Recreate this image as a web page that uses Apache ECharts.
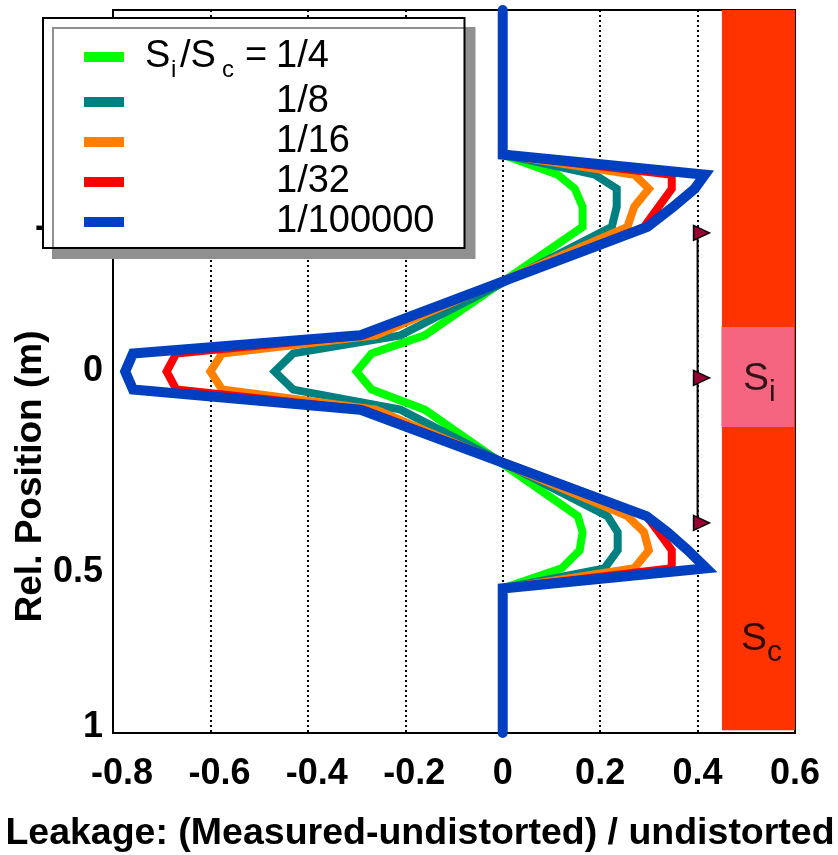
<!DOCTYPE html>
<html><head><meta charset="utf-8">
<script src="https://cdn.jsdelivr.net/npm/echarts@6/dist/echarts.min.js"></script>
<style>html,body{margin:0;padding:0;background:#fff}#c{width:838px;height:855px}</style>
</head><body><div id="c"></div>
<script>
// ---- data ----
const positions = [-0.9, -0.54, -0.49, -0.455, -0.41, -0.36, -0.09, -0.045, 0, 0.045, 0.095, 0.36, 0.40, 0.445, 0.49, 0.54, 0.9];
const ratioNames = ['1/4', '1/8', '1/16', '1/32', '1/100000'];
const leak_1_4 = [0, 0, 0.113, 0.148, 0.164, 0.164, -0.16, -0.269, -0.30, -0.269, -0.16, 0.154, 0.164, 0.158, 0.121, 0, 0];
const leak_1_8 = [0, 0, 0.189, 0.234, 0.234, 0.224, -0.21, -0.43, -0.468, -0.43, -0.21, 0.215, 0.236, 0.236, 0.209, 0, 0];
const leak_1_16 = [0, 0, 0.27, 0.30, 0.27, 0.256, -0.26, -0.576, -0.60, -0.576, -0.26, 0.256, 0.29, 0.30, 0.27, 0, 0];
const leak_1_32 = [0, 0, 0.347, 0.347, 0.32, 0.29, -0.285, -0.67, -0.69, -0.67, -0.285, 0.295, 0.32, 0.347, 0.347, 0, 0];
const leak_1_100000 = [0, 0, 0.415, 0.394, 0.35, 0.297, -0.293, -0.759, -0.775, -0.759, -0.293, 0.295, 0.338, 0.38, 0.418, 0, 0];
const xTicks = [-0.8, -0.6, -0.4, -0.2, 0, 0.2, 0.4, 0.6];
const yTickValues = [-0.36, 0, 0.5, 0.885];
const yTickLabels = ['-0.5', '0', '0.5', '1'];
const arrowX = 0.4;
const arrowY = [-0.345, 0.016, 0.377];
const sourceBar = [0.45, 0.6, -0.9, 0.893];     // x0, x1, y0, y1  (S_c)
const innerBox = [0.449, 0.598, -0.111, 0.138]; // x0, x1, y0, y1  (S_i)
const regionLabels = [{ sub: 'i', x: 0.527, y: 0.019 }, { sub: 'c', x: 0.531, y: 0.666 }];

const leaks = [leak_1_4, leak_1_8, leak_1_16, leak_1_32, leak_1_100000];
const colors = ['#00FF00', '#008080', '#FF8000', '#FF0000', '#0040C0'];
const FONT = '"Liberation Sans", Arial, Helvetica, sans-serif';

const chart = echarts.init(document.getElementById('c'), null, { renderer: 'canvas' });

const lineSeries = ratioNames.map((n, i) => ({
  name: n,
  type: 'line',
  data: positions.map((y, j) => [leaks[i][j], y]),
  symbol: 'none',
  clip: false,
  z: 3 + i,
  lineStyle: { color: colors[i], width: i === 4 ? 10 : 8, cap: 'round', join: 'miter' },
  itemStyle: { color: colors[i] },
  animation: false
}));

const LF = 38;
const option = {
  animation: false,
  backgroundColor: '#fff',
  grid: { left: 113, top: 10, right: 43, bottom: 122, containLabel: false, outerBoundsMode: 'none',
    show: true, borderColor: '#000', borderWidth: 2, backgroundColor: 'transparent', z: 1 },
  legend: {
    data: ratioNames,
    orient: 'vertical',
    left: 43, top: 18,
    padding: [19, 30, 6, 41],
    itemGap: 0,
    itemWidth: 40, itemHeight: 10,
    icon: 'rect',
    selectedMode: false,
    backgroundColor: '#fff',
    borderColor: '#000', borderWidth: 2,
    shadowColor: '#909090', shadowBlur: 0, shadowOffsetX: 10, shadowOffsetY: 10,
    formatter: (name) => name === '1/4'
      ? '{g|}{t1|S}{sub1|i}{t2|/S}{sub2|c}{t3|=}{t|1/4}'
      : '{g|}{pad|}{t|' + name + '}',
    textStyle: {
      fontFamily: FONT, fontSize: LF, color: '#000', lineHeight: 40,
      rich: {
        g: { width: 16, lineHeight: 40 },
        t: { fontFamily: FONT, fontSize: LF, lineHeight: 40 },
        t1: { fontFamily: FONT, fontSize: LF, lineHeight: 40, width: 26 },
        sub1: { fontFamily: FONT, fontSize: 24, lineHeight: 40, height: 14, verticalAlign: 'bottom', width: 9 },
        t2: { fontFamily: FONT, fontSize: LF, lineHeight: 40, width: 42 },
        sub2: { fontFamily: FONT, fontSize: 24, lineHeight: 40, height: 14, verticalAlign: 'bottom', width: 14 },
        t3: { fontFamily: FONT, fontSize: LF, lineHeight: 40, width: 40, align: 'center' },
        pad: { width: 131, lineHeight: 40 }
      }
    }
  },
  xAxis: {
    type: 'value', min: -0.8, max: 0.6, interval: 0.2,
    name: 'Leakage: (Measured-undistorted) / undistorted',
    nameLocation: 'middle', nameGap: 82,
    nameTextStyle: { fontFamily: FONT, fontSize: 37.5, fontWeight: 'bold', color: '#000', padding: [0, 68, 0, 0] },
    axisLine: { show: false }, axisTick: { show: false },
    axisLabel: { fontFamily: FONT, fontSize: 36, fontWeight: 'bold', color: '#000', margin: 23,
      formatter: (v) => {
        const k = xTicks.findIndex(t => Math.abs(t - v) < 1e-6);
        if (k < 0) return '';
        return xTicks[k] < 0 ? '{n|' + xTicks[k] + '}' : String(xTicks[k]);
      },
      rich: { n: { fontFamily: FONT, fontSize: 36, fontWeight: 'bold', color: '#000', padding: [0, 0, 0, 18] } }
    },
    splitLine: { show: true, lineStyle: { color: '#000', width: 2, type: [2, 3] } }
  },
  yAxis: {
    type: 'value', inverse: true, min: -0.9, max: 0.9,
    name: 'Rel. Position (m)',
    nameLocation: 'middle', nameGap: 64, nameMoveOverlap: false,
    nameTextStyle: { fontFamily: FONT, fontSize: 37, fontWeight: 'bold', color: '#000', padding: [0, 210, 0, 0] },
    axisLine: { show: false }, axisTick: { show: false },
    splitLine: { show: false },
    axisLabel: {
      customValues: yTickValues,
      fontFamily: FONT, fontSize: 36, fontWeight: 'bold', color: '#000', margin: 10,
      formatter: (v) => {
        const k = yTickValues.findIndex(t => Math.abs(t - v) < 1e-6);
        if (k < 0) return '';
        return yTickLabels[k].charAt(0) === '-' ? '{m|' + yTickLabels[k] + '}' : yTickLabels[k];
      },
      rich: { m: { fontFamily: FONT, fontSize: 36, fontWeight: 'bold', color: '#000', padding: [0, 6, 0, 0] } }
    }
  },
  series: [
    {
      name: 'regions', type: 'scatter', z: 2,
      data: regionLabels.map(r => [r.x, r.y]),
      symbolSize: 1, itemStyle: { color: 'rgba(0,0,0,0)' },
      label: {
        show: true, position: 'inside',
        formatter: (p) => '{S|S}{s|' + regionLabels[p.dataIndex].sub + '}',
        rich: {
          S: { fontFamily: FONT, fontSize: 39, color: '#000', lineHeight: 44 },
          s: { fontFamily: FONT, fontSize: 30, color: '#000', lineHeight: 44, height: 16, verticalAlign: 'bottom' }
        }
      },
      markArea: {
        silent: true,
        data: [
          [{ xAxis: sourceBar[0], yAxis: sourceBar[2], itemStyle: { color: '#FF3300', opacity: 1 } }, { xAxis: sourceBar[1], yAxis: sourceBar[3] }],
          [{ xAxis: innerBox[0], yAxis: innerBox[2], itemStyle: { color: '#F5657F', opacity: 1 } }, { xAxis: innerBox[1], yAxis: innerBox[3] }]
        ]
      }
    },
    {
      name: 'span', type: 'line', z: 2,
      data: arrowY.map(y => [arrowX, y]),
      symbol: 'triangle', symbolSize: [15, 16], symbolRotate: -90, symbolOffset: [4, 0],
      showSymbol: true,
      lineStyle: { color: '#000', width: 2 },
      itemStyle: { color: '#990033', borderColor: '#000', borderWidth: 1.5 }
    },
    ...lineSeries
  ]
};
chart.setOption(option);
</script></body></html>
